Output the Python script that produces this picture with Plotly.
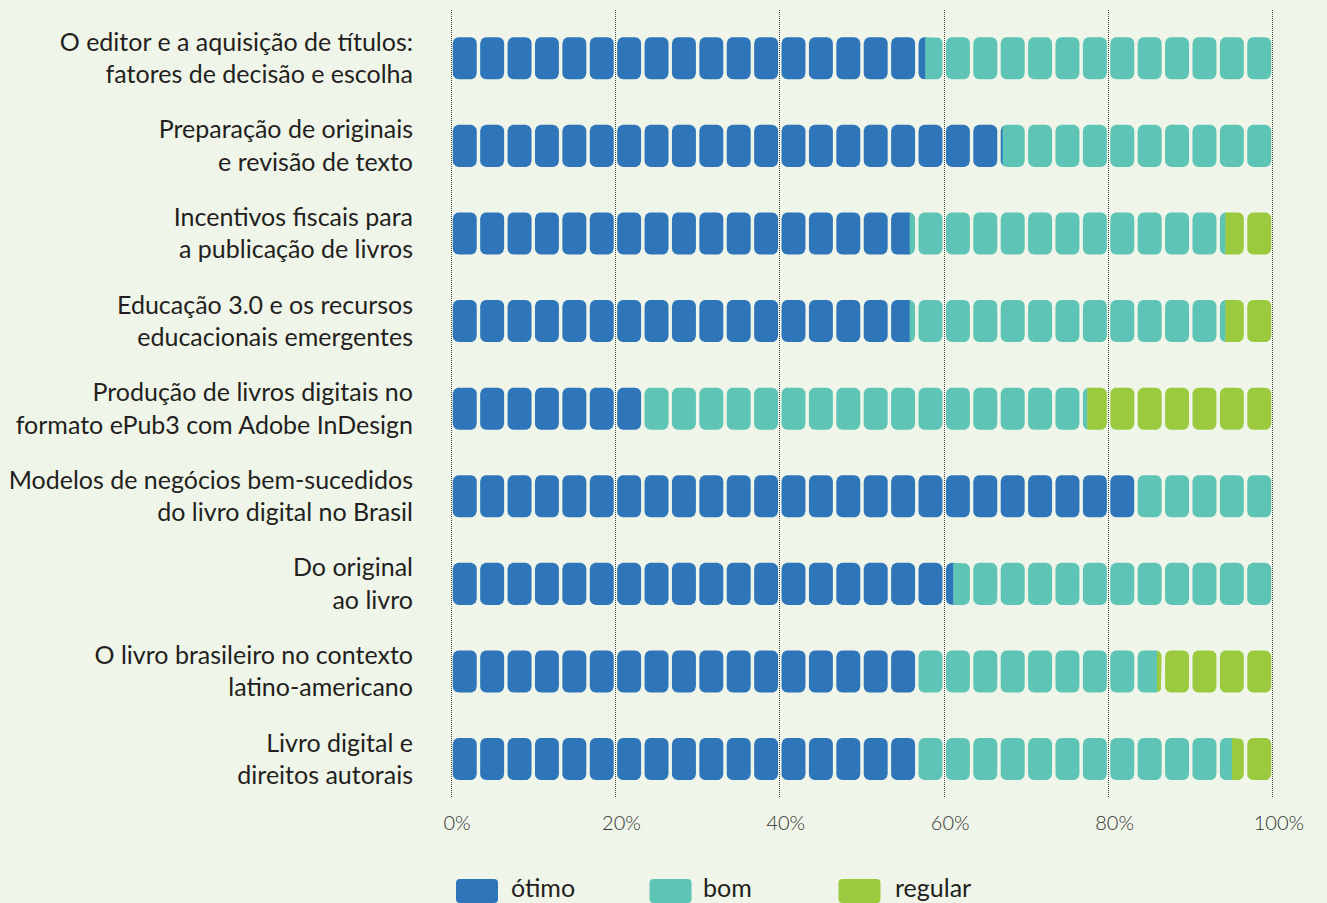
import math
import plotly.graph_objects as go

# ---------------- data ----------------
categories = [
    "O editor e a aquisição de títulos:<br>fatores de decisão e escolha",
    "Preparação de originais<br>e revisão de texto",
    "Incentivos fiscais para<br>a publicação de livros",
    "Educação 3.0 e os recursos<br>educacionais emergentes",
    "Produção de livros digitais no<br>formato ePub3 com Adobe InDesign",
    "Modelos de negócios bem-sucedidos<br>do livro digital no Brasil",
    "Do original<br>ao livro",
    "O livro brasileiro no contexto<br>latino-americano",
    "Livro digital e<br>direitos autorais",
]
otimo = [57.7, 67.1, 55.8, 55.8, 23.3, 83.3, 61.1, 56.7, 56.7]
bom = [42.3, 32.9, 38.4, 38.4, 54.1, 16.7, 38.9, 29.2, 38.3]
regular = [0.0, 0.0, 5.8, 5.8, 22.6, 0.0, 0.0, 14.1, 5.0]
series_names = ["ótimo", "bom", "regular"]
x_tickvals = [0, 20, 40, 60, 80, 100]
x_ticktext = ["0%", "20%", "40%", "60%", "80%", "100%"]

# ---------------- style ----------------
colors = ["#2E75BA", "#5EC4B6", "#9BCA3E"]
bg = "#EFF5E8"
FONT = "Lato"
N_BLOCKS = 30          # each bar is drawn as 30 rounded blocks
GAP = 0.42             # gap between blocks (x units, %)
HALF_H = 0.24          # half block height (category units)
RX, RY = 0.72, 0.068   # corner radius in x / y units
EPS = 0.06             # overlap to hide seams
XMAX = 100.0
PAD = 0.25

plot_l, plot_r, plot_t, plot_b = 449, 1275, 10, 797
Y_RANGE = [8.433, -0.551]

series = [otimo, bom, regular]


def top_profile(x, lo, hi):
    if x < lo + RX:
        d = (lo + RX - x) / RX
        return HALF_H - RY + RY * math.sqrt(max(0.0, 1 - d * d))
    if x > hi - RX:
        d = (x - (hi - RX)) / RX
        return HALF_H - RY + RY * math.sqrt(max(0.0, 1 - d * d))
    return HALF_H


def piece_outline(a, b, lo, hi, yc):
    pts = {a, b}
    for j in range(17):
        t = j / 16
        for xv in (lo + RX * t, hi - RX + RX * t):
            if a <= xv <= b:
                pts.add(xv)
    xs = sorted(pts)
    ys_top = [yc - top_profile(x, lo, hi) for x in xs]
    ys_bot = [yc + top_profile(x, lo, hi) for x in xs]
    px = xs + xs[::-1] + [xs[0], None]
    py = ys_top + ys_bot[::-1] + [ys_top[0], None]
    return px, py


poly_x = [[] for _ in series]
poly_y = [[] for _ in series]
step = XMAX / N_BLOCKS
for r in range(len(categories)):
    edges = [0.0]
    for s in series:
        edges.append(edges[-1] + s[r])
    for k in range(N_BLOCKS):
        lo = k * step + GAP / 2
        hi = (k + 1) * step - GAP / 2
        for i in range(len(series)):
            a = max(lo, edges[i])
            b = min(hi, edges[i + 1])
            if b - a <= 1e-9:
                continue
            if b < hi:           # extend under the next colour to avoid seams
                b = min(hi, b + EPS)
            px, py = piece_outline(a, b, lo, hi, r)
            poly_x[i].extend(px)
            poly_y[i].extend(py)

fig = go.Figure()
for i, name in enumerate(series_names):
    fig.add_trace(go.Scatter(
        name=name, x=poly_x[i], y=poly_y[i],
        mode="lines", fill="toself", fillcolor=colors[i],
        line=dict(width=0, color=colors[i]),
        showlegend=False, hoverinfo="skip",
    ))

# ---------------- legend (custom swatches) ----------------
W, H, R = 21, 12, 4
swatch_path = (
    f"M{-W+R},{-H} L{W-R},{-H} Q{W},{-H} {W},{-H+R} L{W},{H-R} Q{W},{H} {W-R},{H} "
    f"L{-W+R},{H} Q{-W},{H} {-W},{H-R} L{-W},{-H+R} Q{-W},{-H} {-W+R},{-H} Z"
)


def px2paper_x(px):
    return (px - plot_l) / (plot_r - plot_l)


def px2paper_y(py):
    return (plot_b - py) / (plot_b - plot_t)


swatch_cx = [477, 670.5, 859.5]
text_x = [509, 701, 893]
leg_y = 891
for i, name in enumerate(series_names):
    fig.add_shape(
        type="path", path=swatch_path,
        xref="paper", yref="paper",
        xsizemode="pixel", ysizemode="pixel",
        xanchor=px2paper_x(swatch_cx[i]), yanchor=px2paper_y(leg_y),
        fillcolor=colors[i], line=dict(width=0),
    )
    fig.add_annotation(
        text=name, xref="paper", yref="paper",
        x=px2paper_x(text_x[i]), y=px2paper_y(887),
        xanchor="left", yanchor="middle", showarrow=False,
        font=dict(family=FONT, size=25, color="#231F20"),
    )

fig.update_layout(
    width=1327, height=903,
    margin=dict(l=plot_l, r=1327 - plot_r, t=plot_t, b=903 - plot_b),
    paper_bgcolor=bg, plot_bgcolor=bg,
    showlegend=False,
    font=dict(family=FONT, color="#231F20"),
    xaxis=dict(
        range=[-PAD, XMAX + PAD],
        tickvals=x_tickvals, ticktext=x_ticktext,
        showgrid=True, gridcolor="#444444", gridwidth=1, griddash="1px,1px",
        zeroline=False, showline=False, ticks="",
        tickfont=dict(family=FONT, size=20, color="#333333", weight=300),
        ticklabelstandoff=12, ticklabelshift=6,
        automargin=False, fixedrange=True,
    ),
    yaxis=dict(
        range=Y_RANGE,
        tickvals=list(range(len(categories))), ticktext=categories,
        showgrid=False, zeroline=False, showline=False, ticks="",
        tickfont=dict(family=FONT, size=25, color="#231F20"),
        ticklabelstandoff=35,
        automargin=False, fixedrange=True,
    ),
)

fig.write_html(
    "out.html",
    config={"displayModeBar": False},
    post_script="document.body.style.margin='0';document.body.style.background='#EFF5E8';",
)
